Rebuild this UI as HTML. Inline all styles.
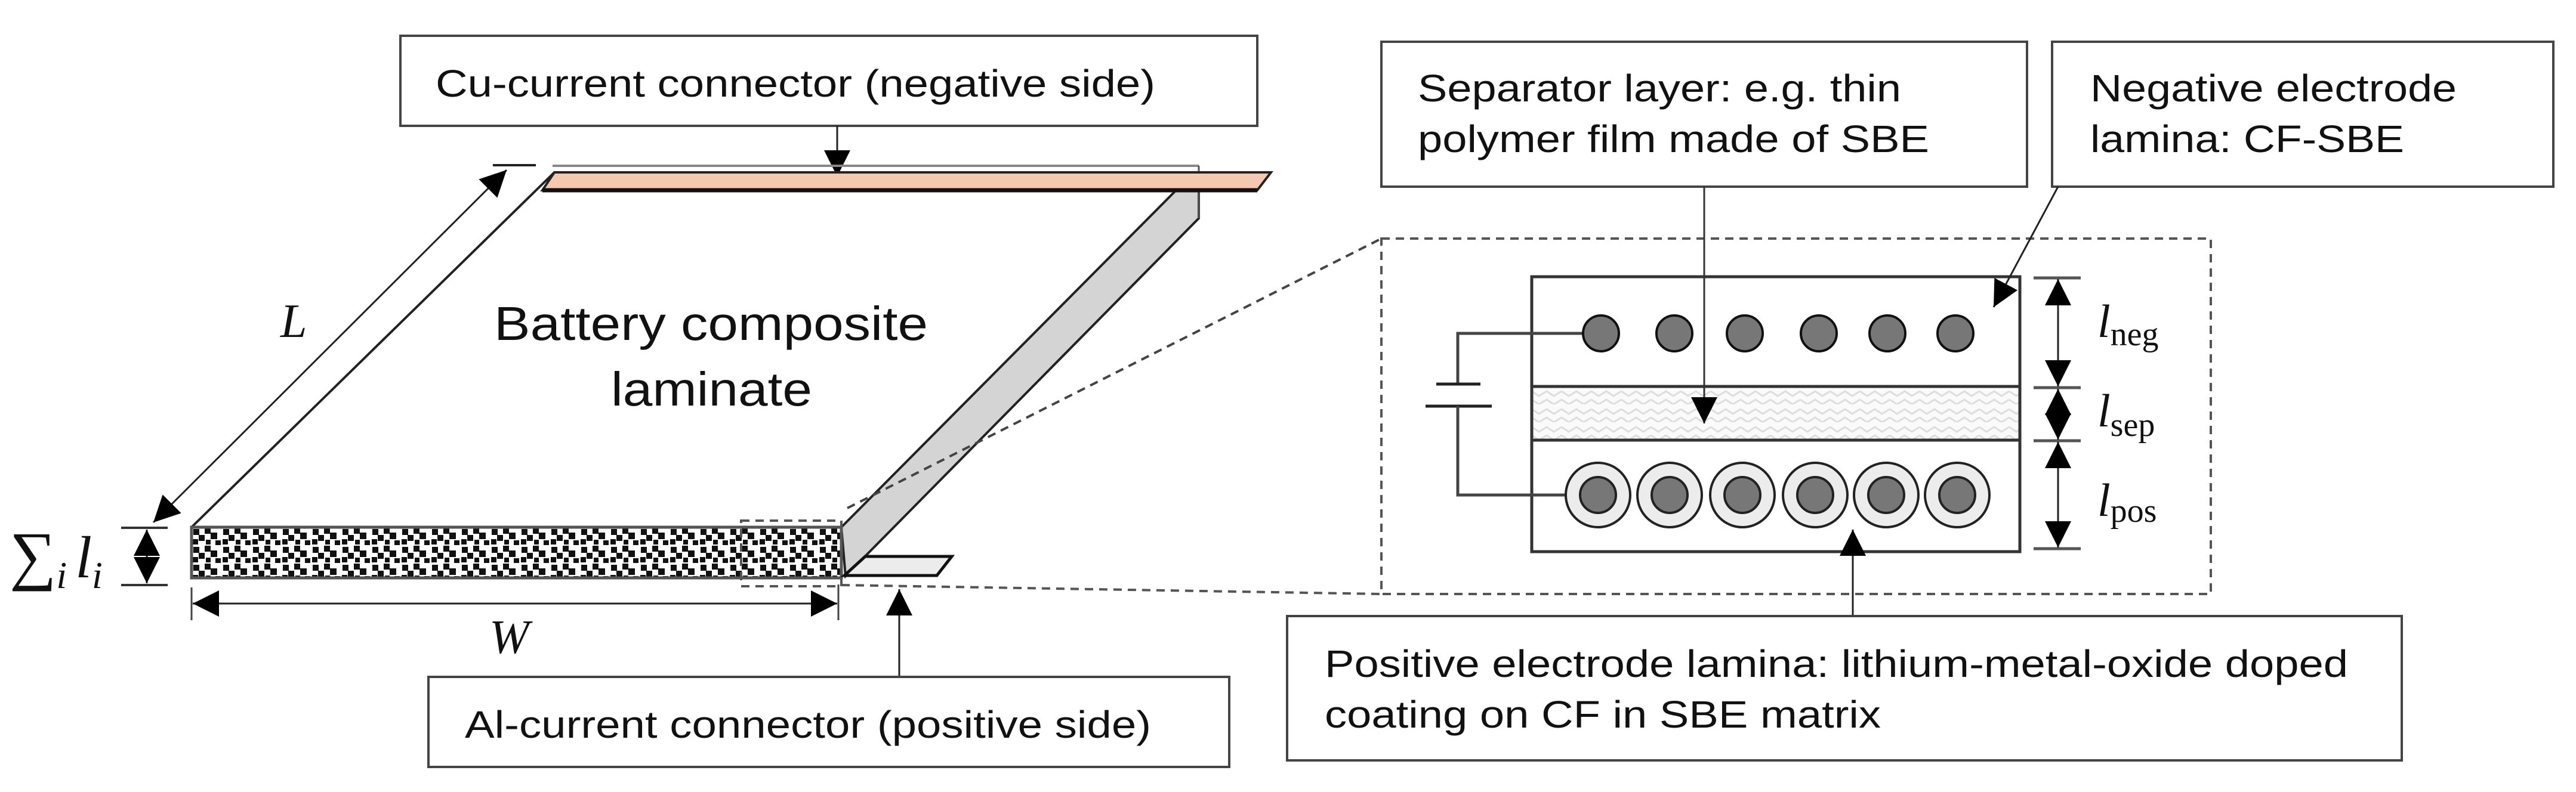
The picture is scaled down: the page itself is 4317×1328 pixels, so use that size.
<!DOCTYPE html>
<html><head><meta charset="utf-8"><style>
html,body{margin:0;padding:0;background:#fff;}
svg{display:block;}
text{font-family:"Liberation Sans",sans-serif;fill:#111;}
.m{font-family:"Liberation Serif",serif;font-style:italic;}
.ms{font-family:"Liberation Serif",serif;font-style:normal;}
</style></head><body>
<svg width="4317" height="1328" viewBox="0 0 4317 1328" xmlns="http://www.w3.org/2000/svg">
<defs>
<pattern id="dots" x="321" y="884" width="50" height="30" patternUnits="userSpaceOnUse">
<rect width="50" height="30" fill="#fff"/>
<rect x="3" y="3" width="10" height="10" fill="#111"/>
<rect x="22" y="1" width="10" height="10" fill="#111"/>
<rect x="32" y="9" width="11" height="11" fill="#111"/>
<rect x="12" y="13" width="10" height="10" fill="#111"/>
<rect x="2" y="20" width="9" height="9" fill="#111"/>
<rect x="40" y="22" width="9" height="8" fill="#111"/>
<rect x="24" y="21" width="8" height="8" fill="#111"/>
</pattern>
<pattern id="wave" x="2567" y="648" width="50" height="30" patternUnits="userSpaceOnUse">
<rect width="50" height="30" fill="#fafafa"/>
<path d="M0,8 L12,16 L25,8 L37,16 L50,8 M0,22 L12,30 L25,22 L37,30 L50,22" stroke="#ddd" stroke-width="3" fill="none"/>
</pattern>
<marker id="ah" viewBox="0 0 10 10" refX="10" refY="5" markerWidth="44" markerHeight="44" markerUnits="userSpaceOnUse" orient="auto-start-reverse">
<path d="M0,0 L10,5 L0,10 Z" fill="#000"/>
</marker>
</defs>

<rect x="671" y="60" width="1436" height="151" fill="#fff" stroke="#444" stroke-width="4"/>
<text x="730" y="162" font-size="64" textLength="1206" lengthAdjust="spacingAndGlyphs">Cu-current connector (negative side)</text>
<line x1="1403" y1="211" x2="1403" y2="296" stroke="#222" stroke-width="3" marker-end="url(#ah)"/>

<line x1="926" y1="278" x2="2009" y2="278" stroke="#888" stroke-width="4"/>
<line x1="826" y1="277" x2="898" y2="277" stroke="#222" stroke-width="4"/>

<line x1="929" y1="289" x2="321" y2="884" stroke="#222" stroke-width="4"/>

<polygon points="1971,319 2009,319 2009,366 1417,966 1410,884" fill="#d4d4d4" stroke="#222" stroke-width="4"/>
<line x1="2009" y1="278" x2="2009" y2="366" stroke="#555" stroke-width="3"/>

<polygon points="929,289 2130,289 2107,319 909,319" fill="#f6c8b0" stroke="#222" stroke-width="4"/>
<line x1="909" y1="319" x2="2107" y2="319" stroke="#111" stroke-width="7"/>

<rect x="321" y="884" width="1089" height="85" fill="url(#dots)" stroke="#555" stroke-width="5"/>

<polygon points="1450,933 1595,933 1570,965 1415,965" fill="#ececec" stroke="#111" stroke-width="5"/>

<rect x="1242" y="873" width="168" height="110" fill="none" stroke="#555" stroke-width="4" stroke-dasharray="14,10"/>

<line x1="1420" y1="852" x2="2315" y2="400" stroke="#444" stroke-width="4" stroke-dasharray="14,10"/>
<line x1="1410" y1="981" x2="2315" y2="996" stroke="#555" stroke-width="4" stroke-dasharray="14,10"/>

<line x1="849" y1="285" x2="257" y2="876" stroke="#222" stroke-width="3" marker-start="url(#ah)" marker-end="url(#ah)"/>
<text class="m" x="470" y="565" font-size="80">L</text>

<line x1="203" y1="885" x2="281" y2="885" stroke="#333" stroke-width="4"/>
<line x1="203" y1="981" x2="281" y2="981" stroke="#333" stroke-width="4"/>
<line x1="246" y1="888" x2="246" y2="978" stroke="#222" stroke-width="3" marker-start="url(#ah)" marker-end="url(#ah)"/>
<text class="ms" x="16" y="968" font-size="110">∑<tspan class="m" font-size="64" dy="18">i</tspan><tspan class="m" font-size="100" dy="-18" dx="14">l</tspan><tspan class="m" font-size="64" dy="18">i</tspan></text>

<line x1="321" y1="985" x2="321" y2="1040" stroke="#444" stroke-width="3"/>
<line x1="1405" y1="980" x2="1405" y2="1040" stroke="#444" stroke-width="3"/>
<line x1="323" y1="1012" x2="1403" y2="1012" stroke="#222" stroke-width="3" marker-start="url(#ah)" marker-end="url(#ah)"/>
<text class="m" x="820" y="1095" font-size="80">W</text>

<text x="828" y="570" font-size="80" textLength="727" lengthAdjust="spacingAndGlyphs">Battery composite</text>
<text x="1024" y="680" font-size="80" textLength="337" lengthAdjust="spacingAndGlyphs">laminate</text>

<line x1="1507" y1="1135" x2="1507" y2="988" stroke="#222" stroke-width="3" marker-end="url(#ah)"/>
<rect x="718" y="1135" width="1342" height="151" fill="#fff" stroke="#444" stroke-width="4"/>
<text x="779" y="1237" font-size="64" textLength="1150" lengthAdjust="spacingAndGlyphs">Al-current connector (positive side)</text>

<rect x="2315" y="400" width="1390" height="596" fill="none" stroke="#555" stroke-width="4" stroke-dasharray="14,10"/>

<rect x="2567" y="464" width="818" height="461" fill="#fff" stroke="#333" stroke-width="5"/>
<rect x="2567" y="648" width="818" height="90" fill="url(#wave)" stroke="#333" stroke-width="5"/>

<polyline points="2653,559 2443,559 2443,644" fill="none" stroke="#444" stroke-width="5"/>
<line x1="2407" y1="644" x2="2481" y2="644" stroke="#222" stroke-width="5"/>
<line x1="2389" y1="681" x2="2500" y2="681" stroke="#222" stroke-width="5"/>
<polyline points="2443,681 2443,830 2624,830" fill="none" stroke="#444" stroke-width="5"/>

<g fill="#777" stroke="#111" stroke-width="4">
<circle cx="2683" cy="559" r="30"/><circle cx="2806" cy="559" r="30"/><circle cx="2924" cy="559" r="30"/>
<circle cx="3048" cy="559" r="30"/><circle cx="3163" cy="559" r="30"/><circle cx="3277" cy="559" r="30"/>
</g>
<g stroke="#222" stroke-width="4">
<g fill="#ececec">
<circle cx="2678" cy="830" r="54"/><circle cx="2798" cy="830" r="54"/><circle cx="2920" cy="830" r="54"/>
<circle cx="3042" cy="830" r="54"/><circle cx="3161" cy="830" r="54"/><circle cx="3280" cy="830" r="54"/>
</g>
<g fill="#777">
<circle cx="2678" cy="830" r="30"/><circle cx="2798" cy="830" r="30"/><circle cx="2920" cy="830" r="30"/>
<circle cx="3042" cy="830" r="30"/><circle cx="3161" cy="830" r="30"/><circle cx="3280" cy="830" r="30"/>
</g>
</g>

<g stroke="#555" stroke-width="5">
<line x1="3408" y1="466" x2="3487" y2="466"/><line x1="3408" y1="650" x2="3487" y2="650"/>
<line x1="3408" y1="739" x2="3487" y2="739"/><line x1="3408" y1="920" x2="3487" y2="920"/>
</g>
<g stroke="#222" stroke-width="3">
<line x1="3449" y1="468" x2="3449" y2="648" marker-start="url(#ah)" marker-end="url(#ah)"/>
<line x1="3449" y1="652" x2="3449" y2="737" marker-start="url(#ah)" marker-end="url(#ah)"/>
<line x1="3449" y1="741" x2="3449" y2="918" marker-start="url(#ah)" marker-end="url(#ah)"/>
</g>
<text class="m" x="3515" y="565" font-size="78">l<tspan class="ms" font-size="56" dy="14">neg</tspan></text>
<text class="m" x="3515" y="715" font-size="78">l<tspan class="ms" font-size="56" dy="16">sep</tspan></text>
<text class="m" x="3515" y="865" font-size="78">l<tspan class="ms" font-size="56" dy="10">pos</tspan></text>

<rect x="2315" y="70" width="1082" height="243" fill="#fff" stroke="#444" stroke-width="4"/>
<text x="2376" y="170" font-size="64" textLength="810" lengthAdjust="spacingAndGlyphs">Separator layer: e.g. thin</text>
<text x="2376" y="255" font-size="64" textLength="857" lengthAdjust="spacingAndGlyphs">polymer film made of SBE</text>
<line x1="2856" y1="313" x2="2856" y2="710" stroke="#333" stroke-width="3" marker-end="url(#ah)"/>

<rect x="3439" y="70" width="840" height="243" fill="#fff" stroke="#444" stroke-width="4"/>
<text x="3503" y="170" font-size="64" textLength="614" lengthAdjust="spacingAndGlyphs">Negative electrode</text>
<text x="3503" y="255" font-size="64" textLength="526" lengthAdjust="spacingAndGlyphs">lamina: CF-SBE</text>
<line x1="3449" y1="313" x2="3341" y2="515" stroke="#222" stroke-width="3" marker-end="url(#ah)"/>

<line x1="3105" y1="1033" x2="3105" y2="888" stroke="#222" stroke-width="3" marker-end="url(#ah)"/>
<rect x="2157" y="1033" width="1868" height="242" fill="#fff" stroke="#444" stroke-width="4"/>
<text x="2220" y="1135" font-size="64" textLength="1715" lengthAdjust="spacingAndGlyphs">Positive electrode lamina: lithium-metal-oxide doped</text>
<text x="2220" y="1220" font-size="64" textLength="932" lengthAdjust="spacingAndGlyphs">coating on CF in SBE matrix</text>
</svg>
</body></html>
